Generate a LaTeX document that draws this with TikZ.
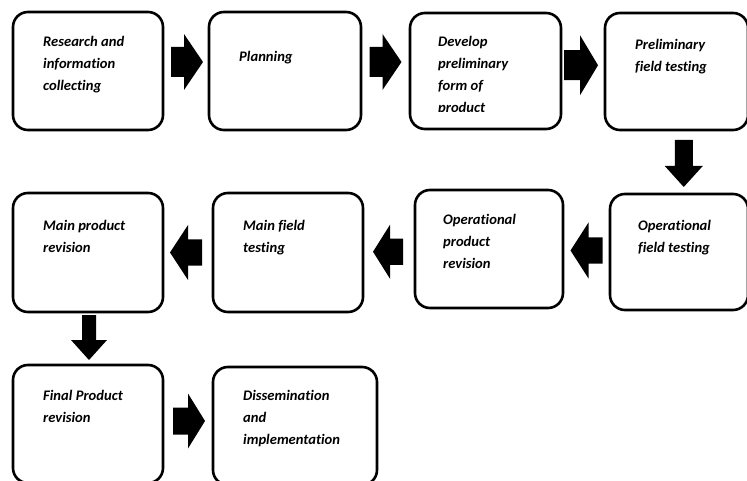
\documentclass[tikz,border=0pt]{standalone}
\usepackage{fontspec}
\setmainfont{Carlito}[Ligatures=NoCommon]
\usetikzlibrary{calc}
\tikzset{
  box/.style={draw=black, line width=2.6pt, rounded corners=15pt, fill=white, inner sep=0pt},
  lbl/.style={anchor=north west, inner sep=0pt, align=left, font=\bfseries\itshape\fontsize{14.6}{22}\selectfont},
  pics/barrow/.style args={#1/#2/#3/#4}{code={
    \fill[black] ({-#1/2},{-#3}) -- ({#1/2-#2},{-#3}) -- ({#1/2-#2},{-#4}) -- ({#1/2},0)
      -- ({#1/2-#2},{#4}) -- ({#1/2-#2},{#3}) -- ({-#1/2},{#3}) -- cycle;
  }}
}
\begin{document}
\begin{tikzpicture}[x=1pt,y=-1pt]
\useasboundingbox (0,0) rectangle (747,481);
\clip (0,0) rectangle (747,481);
% boxes
\node[box, minimum width=150pt, minimum height=118pt] (b1) at (88,71) {};
\node[box, minimum width=152pt, minimum height=118pt] (b2) at (285,71) {};
\node[box, minimum width=151pt, minimum height=116pt] (b3) at (485.5,71) {};
\node[box, minimum width=143pt, minimum height=117pt] (b4) at (676.5,71.5) {};
\node[box, minimum width=150pt, minimum height=119pt] (b5) at (88,252.5) {};
\node[box, minimum width=150pt, minimum height=119pt] (b6) at (288,252.5) {};
\node[box, minimum width=148pt, minimum height=118pt] (b7) at (489,249) {};
\node[box, minimum width=138pt, minimum height=116pt] (b8) at (679,252) {};
\node[box, minimum width=150pt, minimum height=118pt] (b9) at (88,424) {};
\node[box, minimum width=164pt, minimum height=118pt] (b10) at (295,426) {};
% texts
\node[lbl] (t1) at (43,36) {Research and\\information\\collecting};
\node[lbl] (t2) at (239,51) {Planning};
\begin{scope}
\clip (400,0) rectangle (570,111.5);
\node[lbl] (t3) at (438,36) {Develop\\preliminary\\form of\\product};
\end{scope}
\node[lbl] (t4) at (635,39) {Preliminary\\field testing};
\node[lbl] (t5) at (43,220) {Main product\\revision};
\node[lbl] (t6) at (243,220) {Main field\\testing};
\node[lbl] (t7) at (443,214) {Operational\\product\\revision};
\node[lbl] (t8) at (638,220) {Operational\\field testing};
\node[lbl] (t9) at (43,390) {Final Product\\revision};
\node[lbl] (t10) at (243,390) {Dissemination\\and\\implementation};
% block arrows
\pic at ($(b1.east)!0.5!(b2.west)+(1,-9)$) {barrow={32/19/15/28}};
\pic at ($(b2.east)!0.5!(b3.west)+(0,-9)$) {barrow={32/19/15/28}};
\pic at ($(b3.east)!0.5!(b4.west)+(-2,-6)$) {barrow={34/18/15/30}};
\pic[rotate=-90] at ($(b4.south)!0.5!(b8.north)+(6,1.5)$) {barrow={47/21/9/19}};
\pic[rotate=180] at ($(b8.west)!0.5!(b7.east)+(0,0)$) {barrow={32/18/13/28}};
\pic[rotate=180] at ($(b7.west)!0.5!(b6.east)+(-1,1)$) {barrow={30/17/13/27}};
\pic[rotate=180] at ($(b6.west)!0.5!(b5.east)+(-2,0)$) {barrow={32/18/13/27.5}};
\pic[rotate=-90] at ($(b5.south)!0.5!(b9.north)+(1,-1)$) {barrow={45/20/7/18}};
\pic at ($(b9.east)!0.5!(b10.west)+(1,-4)$) {barrow={32/17/13.5/27.5}};
\end{tikzpicture}
\end{document}
